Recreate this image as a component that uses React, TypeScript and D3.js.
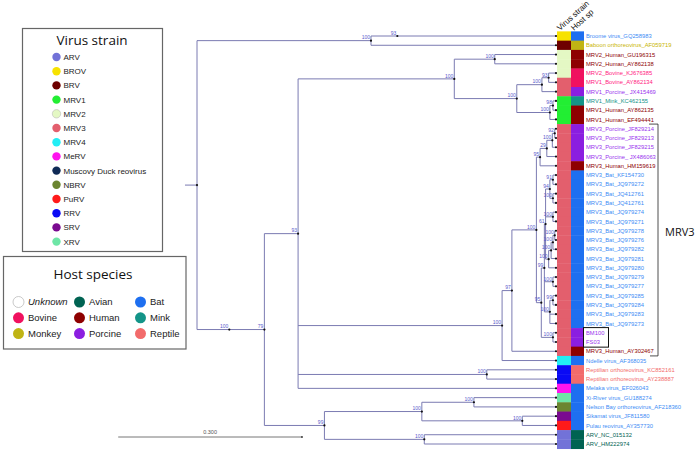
import React from 'react';
import * as d3 from 'd3';

const leafNames = ["Broome virus_GQ258983","Baboon orthoreovirus_AF059719","MRV2_Human_GU196315","MRV2_Human_AY862138","MRV2_Bovine_KJ676385","MRV1_Bovine_AY862134","MRV1_Porcine_ JX415469","MRV1_Mink_KC462155","MRV1_Human_AY862135","MRV1_Human_EF494441","MRV3_Porcine_JF829214","MRV3_Porcine_JF829213","MRV3_Porcine_JF829215","MRV3_Porcine_ JX486063","MRV3_Human_HM159619","MRV3_Bat_KF154730","MRV3_Bat_JQ979272","MRV3_Bat_JQ412761","MRV3_Bat_JQ412761","MRV3_Bat_JQ979274","MRV3_Bat_JQ979271","MRV3_Bat_JQ979278","MRV3_Bat_JQ979276","MRV3_Bat_JQ979282","MRV3_Bat_JQ979281","MRV3_Bat_JQ979280","MRV3_Bat_JQ979279","MRV3_Bat_JQ979277","MRV3_Bat_JQ979285","MRV3_Bat_JQ979284","MRV3_Bat_JQ979283","MRV3_Bat_JQ979273","BM100","FS03","MRV3_Human_AY302467","Ndelle virus_AF368035","Reptilian orthoreovirus_KC852161","Reptilian orthoreovirus_AY238887","Melaka virus_EF026043","Xi-River virus_GU188274","Nelson Bay orthoreovirus_AF218360","Sikamat virus_JF811580","Pulau reovirus_AY357730","ARV_NC_015132","ARV_HM222974"];

const leafStrain = ["BROV","BRV","MRV2","MRV2","MRV2","MRV3","MRV3","MRV1","MRV1","MRV1",
  "MRV3","MRV3","MRV3","MRV3","MRV3","MRV3","MRV3","MRV3","MRV3","MRV3","MRV3","MRV3","MRV3","MRV3","MRV3","MRV3","MRV3","MRV3","MRV3","MRV3","MRV3","MRV3","MRV3","MRV3","MRV3",
  "MRV4","RRV","RRV","MeRV","XRV","NBRV","SRV","PuRV","ARV","ARV"];

const leafHost = ["Bat","Monkey","Human","Human","Bovine","Bovine","Porcine","Mink","Human","Human",
  "Porcine","Porcine","Porcine","Porcine","Human",
  "Bat","Bat","Bat","Bat","Bat","Bat","Bat","Bat","Bat","Bat","Bat","Bat","Bat","Bat","Bat","Bat","Bat",
  "Porcine","Porcine","Human","Bat","Reptile","Reptile","Bat","Bat","Bat","Bat","Bat","Avian","Avian"];

// [id, parent, depth (substitutions/site from root), bootstrap]
const treeNodes: [string, string | null, number, string][] = [
  ["root", null, 0, ""],
  ["bb", "root", 0.284, "100"],
  ["br", "bb", 0.327, "93"],
  ["u1", "root", 0.0527, "100"],
  ["c79", "u1", 0.110, "79"],
  ["c93", "c79", 0.165, "93"],
  ["m12", "c93", 0.420, "100"],
  ["m2h", "m12", 0.486, "100"],
  ["m1", "m12", 0.522, "100"],
  ["m1a", "m1", 0.563, "100"],
  ["m1b", "m1a", 0.574, "93"],
  ["m1c", "m1", 0.576, "100"],
  ["m1d", "m1c", 0.581, "98"],
  ["n1", "c93", 0.498, "100"],
  ["n2", "n1", 0.514, "97"],
  ["n3", "n2", 0.554, "100"],
  ["n5", "n3", 0.560, "95"],
  ["p29", "n5", 0.571, "29"],
  ["p100", "p29", 0.580, "100"],
  ["p92", "p100", 0.584, "92"],
  ["n4", "n3", 0.562, "95"],
  ["n6", "n4", 0.567, "99"],
  ["e", "n6", 0.569, "61"],
  ["b", "e", 0.576, "94"],
  ["a", "b", 0.581, "91"],
  ["c", "b", 0.581, "100"],
  ["d", "e", 0.581, "100"],
  ["i", "e", 0.574, "100"],
  ["h", "i", 0.578, "100"],
  ["g", "h", 0.581, "100"],
  ["f", "g", 0.584, "100"],
  ["k", "n6", 0.581, "100"],
  ["m", "n6", 0.576, "100"],
  ["l", "m", 0.581, "99"],
  ["q", "n4", 0.581, "100"],
  ["rep", "c93", 0.473, "100"],
  ["r99", "c79", 0.208, "99"],
  ["x", "r99", 0.367, "100"],
  ["xn", "x", 0.452, "100"],
  ["sp", "x", 0.531, "100"],
  ["arv", "r99", 0.371, "100"],
];

const leafParent = ["br","bb","m2h","m2h","m1b","m1b","m1a","m1d","m1d","m1c","p92","p92","p100","p29","n5","a","a","c","c","d","d","f","f","g","h","i","k","k","l","l","m","m","q","q","n2","n1","rep","rep","c93","xn","xn","sp","sp","arv","arv"];

const leafDepth = 0.586;
const rootStub = 0.0196;
const scaleBarValue = 0.3;

const strainNames = ["ARV","BROV","BRV","MRV1","MRV2","MRV3","MRV4","MeRV","Muscovy Duck reovirus","NBRV","PuRV","RRV","SRV","XRV"];
const strainColors = ["#7272d8","#f7e200","#6e0000","#22ee33","#e4f8c4","#e35f6d","#22eef5","#ff14ee","#0f2a55","#6b8530","#ff1a1a","#0a0af5","#7a0a90","#6ee6a6"];

const hostNames = ["Unknown","Avian","Bat","Bovine","Human","Mink","Monkey","Porcine","Reptile"];
const hostColors = ["#ffffff","#006352","#1e6ff0","#f0115f","#8e0000","#139488","#c0b414","#8b1ee0","#f26b6b"];
const hostTextColors = ["#999","#006352","#3d8cf5","#ff1a80","#8e0000","#139488","#c8b400","#9933ee","#f26b6b"];

const strainColor = d3.scaleOrdinal<string, string>().domain(strainNames).range(strainColors);
const hostColor = d3.scaleOrdinal<string, string>().domain(hostNames).range(hostColors);
const hostText = d3.scaleOrdinal<string, string>().domain(hostNames).range(hostTextColors);

const W = 696, H = 451;
const lineColor = "#7b7bb2";
const bootColor = "#5a5acb";

export default function App() {
  const x = d3.scaleLinear().domain([0, leafDepth]).range([197, 556]);
  const y = d3.scaleLinear().domain([0, leafNames.length - 1]).range([36, 444]);
  const step = y(1) - y(0);

  const rows: any[] = treeNodes.map(([id, parent, depth, boot]) => ({ id, parent, depth, boot, leaf: -1 }));
  leafParent.forEach((p, i) => rows.push({ id: "L" + i, parent: p, depth: leafDepth, boot: "", leaf: i }));
  const root: any = d3.stratify<any>().id((d: any) => d.id).parentId((d: any) => d.parent)(rows);

  root.eachAfter((n: any) => {
    if (!n.children) {
      n.minI = n.data.leaf;
      n.py = y(n.data.leaf);
    } else {
      n.children.sort((a: any, b: any) => a.minI - b.minI);
      n.minI = n.children[0].minI;
      n.py = (n.children[0].py + n.children[n.children.length - 1].py) / 2;
    }
    n.px = x(n.data.depth);
  });

  const nodes = root.descendants();
  const internal = nodes.filter((n: any) => n.children);

  const xStrain = 557, xHost = 571, cellW = 14;
  const fontSans = "'Liberation Sans', Arial, sans-serif";
  const fontTitle = "'Open Sans', 'Liberation Sans', sans-serif";

  const barEnd = 302;
  const barStart = barEnd - (x(scaleBarValue) - x(0));
  const hostOrder = [0, 3, 6, 1, 4, 7, 2, 5, 8];

  return (
    <svg width={W} height={H} style={{ position: 'absolute', left: 0, top: 0, background: '#fff' }} fontFamily={fontSans}>
      <rect x={0} y={0} width={W} height={H} fill="#fff" />
      {/* tree */}
      <g stroke={lineColor} strokeWidth={1} fill="none">
        <line x1={x(-rootStub)} x2={x(0)} y1={root.py} y2={root.py} />
        {nodes.filter((n: any) => n.parent).map((n: any, i: number) => (
          <line key={"h" + i} x1={n.parent.px} x2={n.px} y1={n.py} y2={n.py} />
        ))}
        {internal.map((n: any, i: number) => (
          <line key={"v" + i} x1={n.px} x2={n.px} y1={n.children[0].py} y2={n.children[n.children.length - 1].py} />
        ))}
      </g>
      <g fill="#111">
        {nodes.map((n: any, i: number) => (
          <circle key={"d" + i} cx={n.px} cy={n.py} r={1.1} />
        ))}
      </g>
      <g fill={bootColor} fontSize={5} textAnchor="end">
        {internal.filter((n: any) => n.data.boot).map((n: any, i: number) => (
          <text key={"b" + i} x={n.px - 1} y={n.py - 1.2}>{n.data.boot}</text>
        ))}
      </g>
      {/* strips */}
      {leafNames.map((nm, i) => (
        <g key={"s" + i}>
          <rect x={xStrain} y={y(i) - step / 2} width={cellW} height={step + 0.4} fill={strainColor(leafStrain[i])} />
          <rect x={xHost} y={y(i) - step / 2} width={cellW - 1} height={step + 0.4} fill={hostColor(leafHost[i])} />
          <text x={586} y={y(i) + 2.1} fontSize={5.8} fill={hostText(leafHost[i])}>{nm}</text>
        </g>
      ))}
      <text transform="translate(560,31) rotate(-42)" fontSize={8} fill="#111">Virus strain</text>
      <text transform="translate(574,31) rotate(-42)" fontSize={8} fill="#111">Host sp</text>
      {/* BM100 box */}
      <rect x={583.5} y={y(32) - step / 2 - 0.5} width={25} height={step * 2 + 1} fill="none" stroke="#111" strokeWidth={1} />
      {/* MRV3 bracket */}
      <g stroke="#222" strokeWidth={0.8} fill="none">
        <line x1={649} x2={658} y1={y(10) - step / 2} y2={y(10) - step / 2} />
        <line x1={658} x2={658} y1={y(10) - step / 2} y2={y(34) + step / 2} />
        <line x1={650} x2={658} y1={y(34) + step / 2} y2={y(34) + step / 2} />
      </g>
      <text x={665} y={236} fontSize={11} fontFamily={fontTitle} fill="#111">MRV3</text>
      {/* scale bar */}
      <line x1={barStart} x2={barEnd} y1={437} y2={437} stroke="#777" strokeWidth={1} />
      <circle cx={barEnd} cy={437} r={0.9} fill="#333" />
      <text x={(barStart + barEnd) / 2} y={434} fontSize={5.5} textAnchor="middle" fill="#555">{scaleBarValue.toFixed(3)}</text>
      {/* Virus strain legend */}
      <rect x={22.5} y={28.5} width={140} height={223} fill="#fff" stroke="#666" strokeWidth={1.2} />
      <text x={92} y={45} fontSize={13.5} textAnchor="middle" fontFamily={fontTitle} fill="#111">Virus strain</text>
      {strainNames.map((s, i) => (
        <g key={"ls" + i}>
          <circle cx={56.5} cy={57 + i * 14.2} r={4.2} fill={strainColors[i]} stroke={s === "MRV2" ? "#bbb" : "none"} strokeWidth={0.6} />
          <text x={63.5} y={57 + i * 14.2 + 3} fontSize={8} fill="#222">{s}</text>
        </g>
      ))}
      {/* Host legend */}
      <rect x={3.5} y={256.5} width={182.5} height={92.5} fill="#fff" stroke="#666" strokeWidth={1.2} />
      <text x={93} y={279} fontSize={13.5} textAnchor="middle" fontFamily={fontTitle} fill="#111">Host species</text>
      {hostNames.map((h, i) => {
        const pos = hostOrder.indexOf(i);
        const c = Math.floor(pos / 3), r = pos % 3;
        const cx = 18.5 + c * 61;
        const cy = 302 + r * 15.8;
        return (
          <g key={"lh" + i}>
            <circle cx={cx} cy={cy} r={5.5} fill={hostColors[i]} stroke={h === "Unknown" ? "#bbb" : "none"} strokeWidth={0.8} />
            <text x={cx + 9.5} y={cy + 3.3} fontSize={9.5} fill="#222" fontStyle={h === "Unknown" ? "italic" : "normal"}>{h}</text>
          </g>
        );
      })}
    </svg>
  );
}
